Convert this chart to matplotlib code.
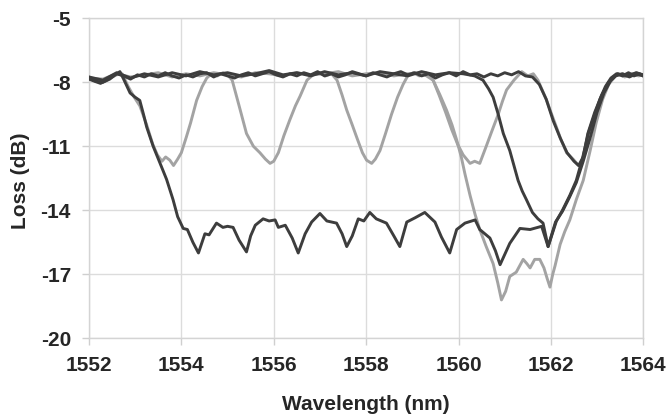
import matplotlib
matplotlib.use("Agg")
import matplotlib.pyplot as plt

plt.rcParams['font.family'] = ['Liberation Sans', 'DejaVu Sans']

# ---------------- data (wavelength nm, loss dB) ----------------
x_ticks = [1552, 1554, 1556, 1558, 1560, 1562, 1564]
y_ticks = [-20, -17, -14, -11, -8, -5]

# single-channel filter (dark), dip at 1562.6
d3_wl = [1552.00, 1552.15, 1552.30, 1552.45, 1552.60, 1552.75, 1552.90, 1553.05, 1553.20, 1553.35,
         1553.50, 1553.65, 1553.80, 1553.95, 1554.10, 1554.25, 1554.40, 1554.55, 1554.70, 1554.85,
         1555.00, 1555.15, 1555.30, 1555.45, 1555.60, 1555.75, 1555.90, 1556.05, 1556.20, 1556.35,
         1556.50, 1556.65, 1556.80, 1556.95, 1557.10, 1557.25, 1557.40, 1557.55, 1557.70, 1557.85,
         1558.00, 1558.15, 1558.30, 1558.45, 1558.60, 1558.75, 1558.90, 1559.05, 1559.20, 1559.35,
         1559.50, 1559.65, 1559.80, 1559.95, 1560.10, 1560.25, 1560.40, 1560.55, 1560.70, 1560.85,
         1561.00, 1561.15, 1561.30, 1561.45, 1561.60, 1561.75, 1561.90, 1562.05, 1562.20, 1562.35,
         1562.50, 1562.60, 1562.70, 1562.80, 1562.95, 1563.10, 1563.25, 1563.40, 1563.55, 1563.70,
         1563.85, 1564.00]
d3_loss = [-7.80, -7.95, -8.00, -7.85, -7.60, -7.70, -7.85, -7.65, -7.75, -7.60,
           -7.70, -7.55, -7.70, -7.80, -7.65, -7.75, -7.60, -7.55, -7.75, -7.60,
           -7.70, -7.80, -7.65, -7.55, -7.70, -7.60, -7.50, -7.65, -7.75, -7.60,
           -7.70, -7.55, -7.65, -7.50, -7.70, -7.60, -7.75, -7.65, -7.50, -7.60,
           -7.70, -7.55, -7.65, -7.75, -7.60, -7.50, -7.65, -7.55, -7.70, -7.60,
           -7.80, -7.65, -7.55, -7.70, -7.50, -7.65, -7.60, -7.75, -7.60, -7.70,
           -7.55, -7.65, -7.50, -7.70, -7.75, -8.10, -8.80, -9.80, -10.60, -11.30,
           -11.70, -11.90, -11.50, -10.40, -9.40, -8.60, -8.00, -7.70, -7.60, -7.75,
           -7.60, -7.70]

# broadband filter (dark)
d1_wl = [1552.00, 1552.12, 1552.25, 1552.38, 1552.50, 1552.60, 1552.67, 1552.75, 1552.89, 1553.00,
         1553.10, 1553.18, 1553.25, 1553.39, 1553.54, 1553.68, 1553.82, 1553.92, 1554.04, 1554.13,
         1554.25, 1554.37, 1554.51, 1554.60, 1554.76, 1554.90, 1555.00, 1555.12, 1555.25, 1555.41,
         1555.50, 1555.60, 1555.77, 1555.90, 1556.03, 1556.10, 1556.25, 1556.40, 1556.53, 1556.68,
         1556.82, 1557.00, 1557.15, 1557.36, 1557.48, 1557.58, 1557.70, 1557.83, 1557.95, 1558.08,
         1558.22, 1558.44, 1558.60, 1558.73, 1558.88, 1559.06, 1559.27, 1559.49, 1559.63, 1559.81,
         1559.96, 1560.14, 1560.36, 1560.46, 1560.68, 1560.80, 1560.90, 1561.11, 1561.33, 1561.55,
         1561.80, 1561.94, 1562.12, 1562.25, 1562.41, 1562.55, 1562.68, 1562.81, 1562.95, 1563.06,
         1563.18, 1563.30, 1563.42, 1563.55, 1563.68, 1563.80, 1563.92, 1564.00]
d1_loss = [-7.85, -7.95, -8.05, -7.90, -7.70, -7.60, -7.50, -7.85, -8.50, -8.70,
           -8.85, -9.50, -10.10, -11.00, -11.80, -12.55, -13.50, -14.30, -14.85, -14.90,
           -15.50, -16.00, -15.10, -15.15, -14.60, -14.80, -14.75, -14.80, -15.40, -15.95,
           -15.20, -14.70, -14.40, -14.50, -14.45, -14.80, -14.70, -15.30, -16.00, -15.10,
           -14.55, -14.15, -14.50, -14.60, -15.10, -15.70, -15.20, -14.40, -14.50, -14.10,
           -14.40, -14.60, -15.20, -15.70, -14.55, -14.35, -14.10, -14.55, -15.25, -16.00,
           -14.90, -14.60, -14.45, -14.90, -15.30, -15.90, -16.55, -15.55, -14.85, -14.90,
           -14.75, -15.70, -14.50, -14.00, -13.30, -12.60, -11.60, -10.40, -9.50, -8.80,
           -8.20, -7.80, -7.60, -7.70, -7.55, -7.70, -7.60, -7.70]

# narrow filter (dark)
d2_wl = [1552.00, 1552.30, 1552.60, 1552.90, 1553.20, 1553.50, 1553.80, 1554.10, 1554.40, 1554.70,
         1555.00, 1555.30, 1555.60, 1555.90, 1556.20, 1556.50, 1556.80, 1557.10, 1557.40, 1557.70,
         1558.00, 1558.30, 1558.60, 1558.90, 1559.20, 1559.50, 1559.80, 1560.10, 1560.35, 1560.53,
         1560.65, 1560.75, 1560.86, 1560.97, 1561.11, 1561.20, 1561.29, 1561.38, 1561.47, 1561.60,
         1561.72, 1561.83, 1561.94, 1562.10, 1562.25, 1562.40, 1562.55, 1562.70, 1562.85, 1563.00,
         1563.15, 1563.30, 1563.45, 1563.65, 1563.85, 1564.00]
d2_loss = [-7.75, -7.90, -7.55, -7.80, -7.60, -7.75, -7.55, -7.70, -7.50, -7.65,
           -7.55, -7.70, -7.60, -7.45, -7.65, -7.55, -7.70, -7.50, -7.65, -7.55,
           -7.70, -7.50, -7.60, -7.70, -7.50, -7.65, -7.55, -7.60, -7.70, -7.90,
           -8.30, -8.70, -9.50, -10.40, -11.20, -11.90, -12.60, -13.10, -13.50, -14.10,
           -14.40, -14.60, -15.70, -14.55, -14.05, -13.40, -12.70, -11.70, -10.60, -9.40,
           -8.50, -7.90, -7.60, -7.70, -7.55, -7.65]

# comb filter (light)
l1_wl = [1552.00, 1552.15, 1552.30, 1552.45, 1552.60, 1552.72, 1552.85, 1552.98, 1553.10, 1553.25,
         1553.38, 1553.48, 1553.58, 1553.66, 1553.75, 1553.83, 1553.92, 1554.00, 1554.11, 1554.20,
         1554.33, 1554.45, 1554.55, 1554.65, 1554.78, 1554.90, 1555.02, 1555.10, 1555.25, 1555.41,
         1555.56, 1555.70, 1555.82, 1555.92, 1556.00, 1556.10, 1556.22, 1556.35, 1556.47, 1556.57,
         1556.72, 1556.85, 1557.00, 1557.12, 1557.25, 1557.37, 1557.48, 1557.58, 1557.70, 1557.80,
         1557.92, 1558.01, 1558.12, 1558.20, 1558.30, 1558.42, 1558.55, 1558.68, 1558.80, 1558.90,
         1559.02, 1559.15, 1559.30, 1559.45, 1559.58, 1559.72, 1559.85, 1559.98, 1560.10, 1560.25,
         1560.35, 1560.46, 1560.60, 1560.72, 1560.86, 1560.95, 1561.04, 1561.20, 1561.37, 1561.50,
         1561.62, 1561.72, 1561.90, 1562.00, 1562.12, 1562.22, 1562.34, 1562.48, 1562.60, 1562.66,
         1562.72, 1562.82, 1562.95, 1563.08, 1563.20, 1563.33, 1563.45, 1563.60, 1563.75, 1563.90,
         1564.00]
l1_loss = [-7.75, -7.90, -7.95, -7.80, -7.65, -7.60, -8.20, -8.70, -9.10, -10.00,
           -10.90, -11.40, -11.70, -11.50, -11.65, -11.90, -11.60, -11.30, -10.55, -9.90,
           -8.85, -8.20, -7.80, -7.60, -7.70, -7.55, -7.70, -7.90, -9.10, -10.40,
           -11.00, -11.30, -11.60, -11.80, -11.70, -11.30, -10.50, -9.75, -9.10, -8.65,
           -7.90, -7.65, -7.55, -7.70, -7.60, -7.90, -8.60, -9.30, -10.00, -10.60,
           -11.30, -11.65, -11.80, -11.60, -11.20, -10.40, -9.50, -8.70, -8.10, -7.70,
           -7.55, -7.70, -7.55, -7.90, -8.60, -9.40, -10.20, -10.90, -11.40, -11.80,
           -11.70, -11.80, -11.00, -10.30, -9.50, -8.90, -8.36, -7.90, -7.50, -7.70,
           -7.60, -7.90, -8.80, -9.40, -10.10, -10.70, -11.30, -11.60, -11.90, -11.75,
           -11.40, -10.50, -9.60, -8.85, -8.20, -7.80, -7.60, -7.75, -7.60, -7.70,
           -7.65]

# cascaded response (light)
l2_wl = [1552.00, 1552.30, 1552.60, 1552.90, 1553.20, 1553.50, 1553.80, 1554.10, 1554.40, 1554.70,
         1555.00, 1555.30, 1555.60, 1555.90, 1556.20, 1556.50, 1556.80, 1557.10, 1557.40, 1557.70,
         1558.00, 1558.30, 1558.60, 1558.90, 1559.20, 1559.45, 1559.60, 1559.74, 1559.86, 1559.96,
         1560.06, 1560.14, 1560.25, 1560.36, 1560.46, 1560.60, 1560.75, 1560.85, 1560.93, 1561.02,
         1561.11, 1561.25, 1561.40, 1561.48, 1561.55, 1561.65, 1561.76, 1561.85, 1561.92, 1561.98,
         1562.04, 1562.09, 1562.20, 1562.30, 1562.41, 1562.55, 1562.70, 1562.85, 1562.98, 1563.12,
         1563.25, 1563.40, 1563.55, 1563.70, 1563.85, 1564.00]
l2_loss = [-7.80, -7.85, -7.60, -7.75, -7.65, -7.55, -7.75, -7.60, -7.70, -7.55,
           -7.65, -7.75, -7.55, -7.60, -7.70, -7.55, -7.65, -7.60, -7.50, -7.70,
           -7.60, -7.55, -7.70, -7.60, -7.55, -7.90, -8.60, -9.30, -10.00, -10.70,
           -11.50, -12.30, -13.30, -14.20, -14.90, -15.70, -16.50, -17.40, -18.20, -17.80,
           -17.10, -16.90, -16.30, -16.50, -16.70, -16.30, -16.30, -16.70, -17.20, -17.60,
           -17.00, -16.60, -15.60, -15.00, -14.45, -13.50, -12.60, -11.20, -9.90, -8.80,
           -8.10, -7.70, -7.60, -7.70, -7.55, -7.70]

# ---------------- figure ----------------
fig = plt.figure(figsize=(6.70, 4.17), dpi=100)
ax = fig.add_axes([0.1328, 0.1887, 0.8273, 0.7674])

dark = '#3d3d3d'
light = '#a3a3a3'
lw = 2.1

ax.plot(l1_wl, l1_loss, color=light, lw=lw, zorder=3)
ax.plot(l2_wl, l2_loss, color=light, lw=lw, zorder=3)
ax.plot(d3_wl, d3_loss, color=dark, lw=lw, zorder=4)
ax.plot(d2_wl, d2_loss, color=dark, lw=lw, zorder=4)
ax.plot(d1_wl, d1_loss, color=dark, lw=lw, zorder=4)

ax.set_xlim(1552, 1564)
ax.set_ylim(-20, -5)
ax.set_xticks(x_ticks)
ax.set_yticks(y_ticks)
ax.set_xticklabels([str(v) for v in x_ticks])
ax.set_yticklabels([str(v) for v in y_ticks])

ax.grid(True, color='#dcdcdc', lw=1.0, zorder=0)
for s in ax.spines.values():
    s.set_color('#d4d4d4')
    s.set_linewidth(1.0)
ax.tick_params(axis='both', direction='out', length=5, width=1.0, color='#cfcfcf',
               labelsize=15, labelcolor='#262626')
ax.tick_params(axis='y', pad=8)
ax.tick_params(axis='x', pad=8)
for lab in ax.get_xticklabels() + ax.get_yticklabels():
    lab.set_fontweight('bold')

fig.text(0.546, 0.029, 'Wavelength (nm)', ha='center', va='center',
         fontsize=15, fontweight='bold', color='#262626')
fig.text(0.031, 0.566, 'Loss (dB)', ha='center', va='center', rotation=90,
         fontsize=15, fontweight='bold', color='#262626')

fig.savefig('out.png', dpi=100, facecolor='white')
